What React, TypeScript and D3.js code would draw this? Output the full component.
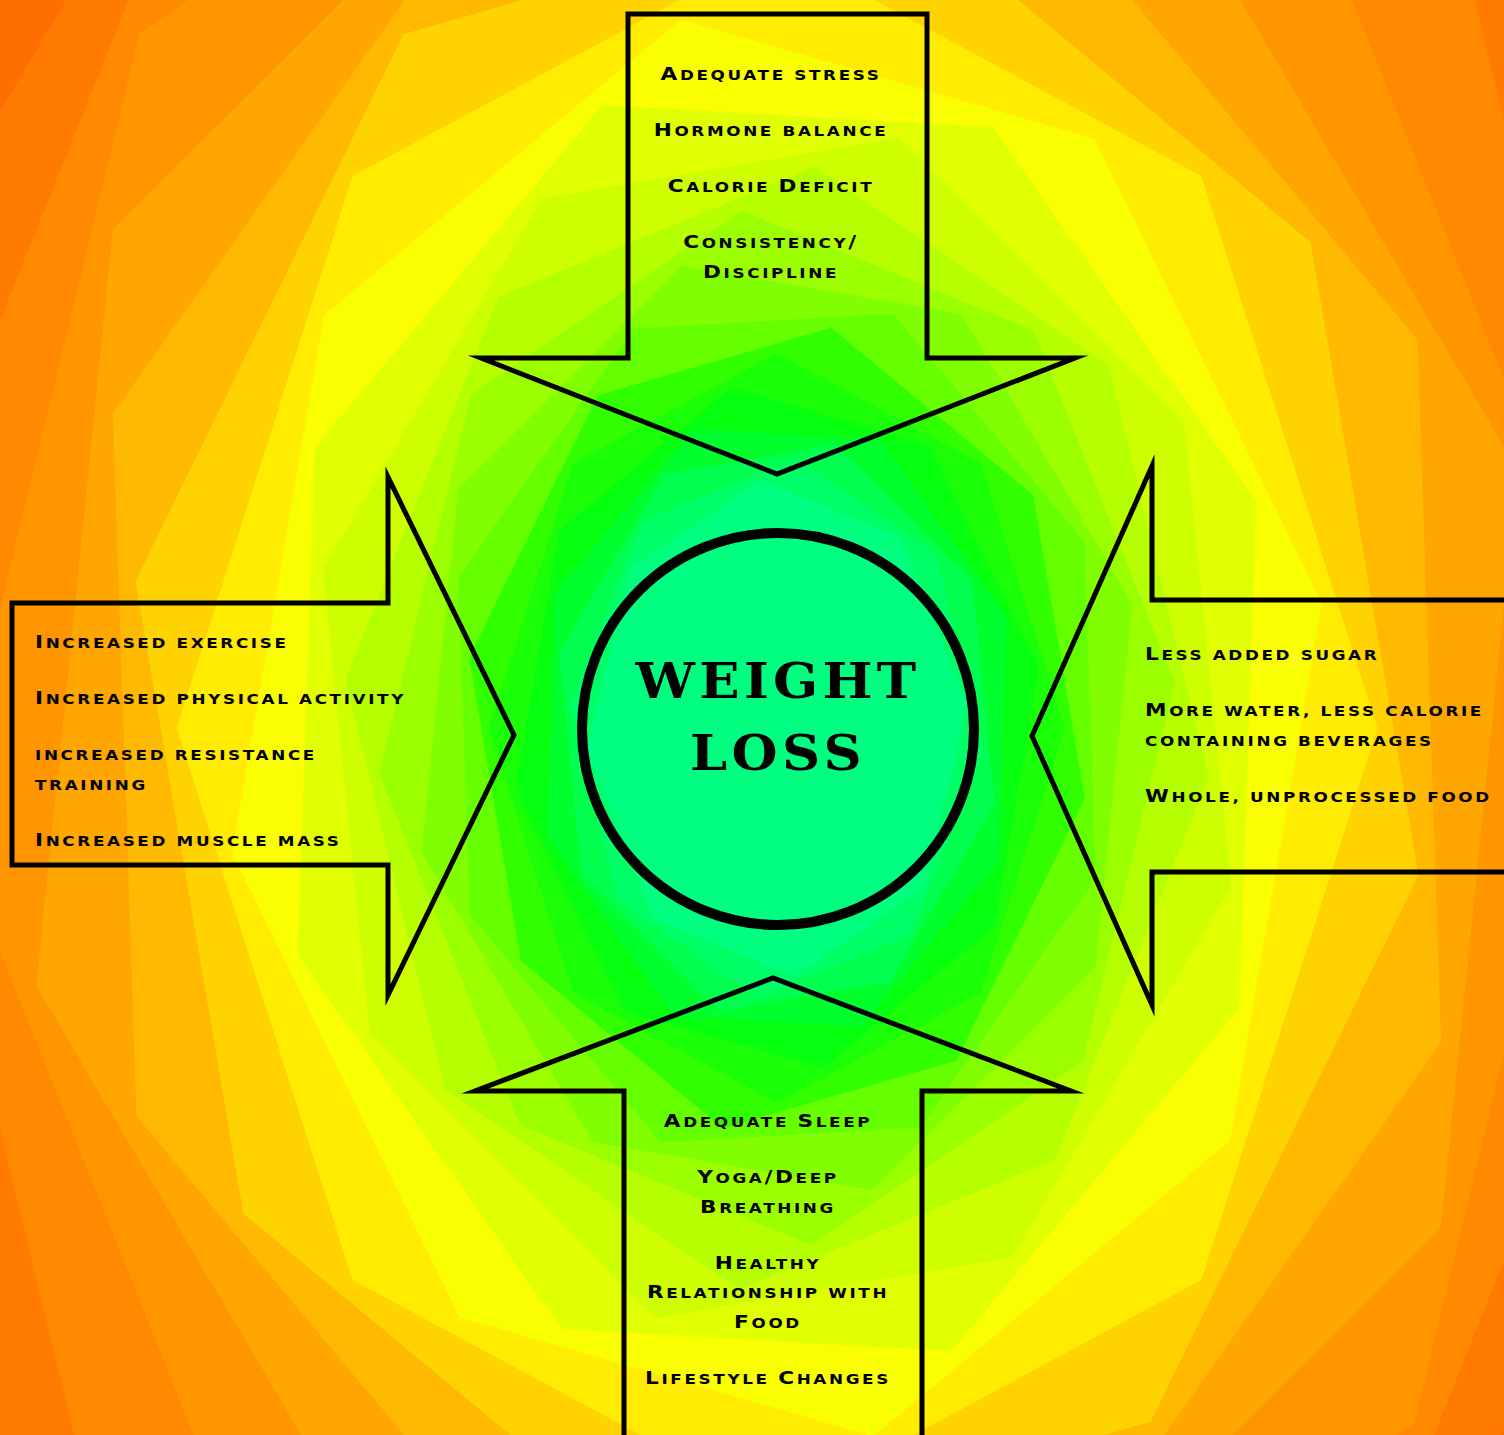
import React from 'react';
import * as d3 from 'd3';

const W = 1504;
const H = 1435;
const CX = 777;
const CY = 728;

const titleLines = ['WEIGHT', 'LOSS'];
const topItems = [['Adequate stress'], ['Hormone balance'], ['Calorie Deficit'], ['Consistency/', 'Discipline']];
const leftItems = [['Increased exercise'], ['Increased physical activity'], ['increased resistance', 'training'], ['Increased muscle mass']];
const rightItems = [['Less added sugar'], ['More water, less calorie', 'containing beverages'], ['Whole, unprocessed food']];
const bottomItems = [['Adequate Sleep'], ['Yoga/Deep', 'Breathing'], ['Healthy', 'Relationship with', 'Food'], ['Lifestyle Changes']];

// swirl background: polygon radius -> colour
const ringRadius = [190, 225, 260, 312, 333, 393, 466, 528, 562, 625, 688, 750, 833, 938, 1042, 1200];
const ringColor = ['#00ff80', '#00ff50', '#00ff10', '#30ff00', '#60ff00', '#98ff00', '#ccff00', '#e8ff00', '#ffff00', '#ffe000', '#ffc000', '#ffaa00', '#ff9600', '#ff8200', '#ff7000', '#ff6200'];

const SIDES = 8;
const TWIST = 10; // degrees per polygon
const GROWTH = 1.085;
const R0 = 150;
const RMAX = 1600;
const PHASE = 10;
const STRETCH = 1.3;

const ITEM_GAP = 56;
const LINE_GAP = 29.5;
const TEXT_SX = 1.2;
const CAP = 18;
const SMALL = 14;

const textStyle: React.CSSProperties = {
  fontFamily: '"DejaVu Sans", sans-serif',
  fontWeight: 700,
  letterSpacing: 2.2,
  whiteSpace: 'pre',
};

function Swirl() {
  const count = Math.ceil(Math.log(RMAX / R0) / Math.log(GROWTH));
  const color = d3.scaleLinear<string>().domain(ringRadius).range(ringColor).clamp(true);
  const radial = d3.lineRadial<[number, number]>().curve(d3.curveLinearClosed);
  const polys = d3.range(count, -1, -1).map(j => {
    const r = R0 * Math.pow(GROWTH, j);
    const rot = ((PHASE + j * TWIST) * Math.PI) / 180;
    const pts = d3.range(SIDES).map(k => [rot + (k * 2 * Math.PI) / SIDES, r] as [number, number]);
    return { j, r, d: radial(pts) || '' };
  });
  return (
    <g transform={`translate(${CX},${CY}) scale(1,${STRETCH})`}>
      {polys.map(p => (
        <path key={p.j} d={p.d} fill={color(p.r)} />
      ))}
    </g>
  );
}

// small caps by hand: capitals stay big, the rest is set as smaller capitals
function smallCaps(t: string) {
  const runs: { big: boolean; s: string }[] = [];
  for (const ch of t) {
    const big = ch !== ch.toLowerCase() || ch === '/';
    const last = runs[runs.length - 1];
    if (last && last.big === big) last.s += ch;
    else runs.push({ big, s: ch });
  }
  return runs.map((r, i) => (
    <tspan key={i} fontSize={r.big ? CAP : SMALL}>
      {r.s.toUpperCase()}
    </tspan>
  ));
}

function ItemText({ items, x, y0, anchor }: { items: string[][]; x: number; y0: number; anchor: 'start' | 'middle' }) {
  const out: React.ReactNode[] = [];
  let y = y0;
  items.forEach((lines, i) => {
    if (i > 0) y += ITEM_GAP;
    lines.forEach((t, k) => {
      if (k > 0) y += LINE_GAP;
      out.push(
        <text key={`${i}-${k}`} transform={`translate(${x},${y}) scale(${TEXT_SX},1)`} textAnchor={anchor} style={textStyle} fill="#000">
          {smallCaps(t)}
        </text>
      );
    });
  });
  return <g>{out}</g>;
}

export default function App() {
  const arrowStyle = { fill: 'none', stroke: '#000', strokeWidth: 5, strokeMiterlimit: 8 };
  return (
    <svg width={W} height={H} style={{ position: 'absolute', left: 0, top: 0, display: 'block' }}>
      <rect width={W} height={H} fill="#ff7000" />
      <Swirl />

      {/* arrows */}
      <path d="M628,14 H927 V358 H1075 L777,474 L481,358 H628 Z" {...arrowStyle} />
      <path d="M12,603 H388 V477 L514,735 L388,995 V865 H12 Z" {...arrowStyle} />
      <path d="M1530,600 H1152 V466 L1032,736 L1152,1005 V872 H1530 Z" {...arrowStyle} />
      <path d="M624,1460 V1091 H475 L773,978 L1071,1091 H922 V1460 Z" {...arrowStyle} />

      <circle cx={CX + 1} cy={CY + 1} r={196} fill="none" stroke="#000" strokeWidth={10} />

      {titleLines.map((t, i) => (
        <text
          key={t}
          transform={`translate(${CX + 1},${698 + i * 72}) scale(1.08,1)`}
          textAnchor="middle"
          fill="#000"
          style={{ fontFamily: '"DejaVu Serif", serif', fontWeight: 700, fontSize: 49, letterSpacing: 4 }}
        >
          {t}
        </text>
      ))}

      <ItemText items={topItems} x={771} y0={80} anchor="middle" />
      <ItemText items={leftItems} x={35} y0={648} anchor="start" />
      <ItemText items={rightItems} x={1145} y0={660} anchor="start" />
      <ItemText items={bottomItems} x={768} y0={1127} anchor="middle" />
    </svg>
  );
}
